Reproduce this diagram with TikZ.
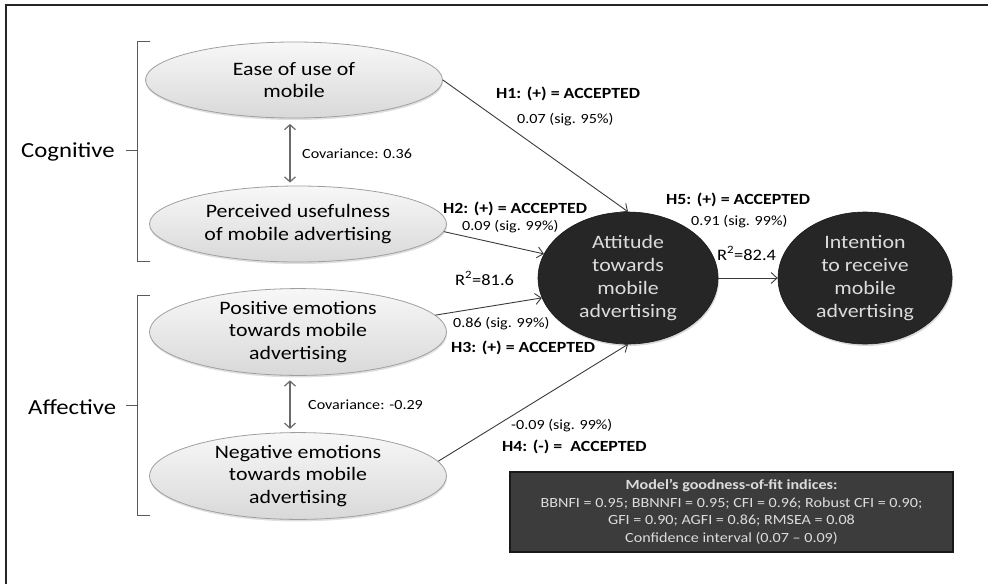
\documentclass[tikz,border=0pt]{standalone}
\usepackage{fontspec}
\setmainfont{Carlito}[FakeStretch=1.15]
\usetikzlibrary{arrows.meta,shapes.geometric,shadows}

\definecolor{lineclr}{HTML}{3A3A3A}
\definecolor{covclr}{HTML}{6A6A6A}
\definecolor{bracketclr}{HTML}{5A5A5A}
\definecolor{darkfill}{HTML}{262626}
\definecolor{boxfill}{HTML}{3C3C3C}
\definecolor{lighttext}{HTML}{DCDCDC}

\tikzset{
  construct/.style={ellipse, inner sep=0pt, minimum width=297pt, minimum height=76pt,
    draw=gray!75, line width=0.8pt, top color=gray!6, bottom color=gray!30,
    drop shadow={shadow xshift=0.5pt, shadow yshift=-2pt, opacity=0.25},
    align=center, font=\fontsize{19}{22.5}\selectfont},
  latent/.style={ellipse, inner sep=0pt, minimum height=132pt,
    fill=darkfill, draw=black!90, line width=0.6pt,
    drop shadow={shadow xshift=1pt, shadow yshift=-2pt, opacity=0.3},
    text=lighttext, align=center, font=\fontsize{19}{23}\selectfont},
  path/.style={draw=lineclr, line width=0.9pt, -{Straight Barb[length=6pt,width=11pt]}},
  cov/.style={draw=covclr, line width=1.2pt,
    {Straight Barb[length=5pt,width=11pt]}-{Straight Barb[length=5pt,width=11pt]}},
  bracket/.style={draw=bracketclr, line width=1pt},
  hyp/.style={anchor=base west, inner sep=0pt, font=\fontsize{15.5}{18}\selectfont\bfseries},
  est/.style={anchor=base west, inner sep=0pt, font=\fontsize{14}{16}\selectfont},
  group/.style={anchor=base west, inner sep=0pt, font=\fontsize{21.5}{24}\selectfont},
  fitbox/.style={draw=black!90, line width=1.2pt, fill=boxfill, text=lighttext,
    minimum width=443pt, minimum height=80pt, inner sep=0pt, align=center,
    font=\fontsize{14}{17.5}\selectfont,
    drop shadow={shadow xshift=1pt, shadow yshift=-1pt, opacity=0.25}}
}

\begin{document}
\begin{tikzpicture}[x=1pt, y=-1pt]
\useasboundingbox (0,0) rectangle (988,584);

% frame (top and left edges)
\draw[line width=2pt, black!85] (6,584) -- (6,5) -- (988,5);

% constructs
\node[construct] (ease) at (294,80)  {Ease of use of\\mobile};
\node[construct] (perc) at (298,224) {Perceived usefulness\\of mobile advertising};
\node[construct] (pos)  at (298,332) {Positive emotions\\towards mobile\\advertising};
\node[construct] (neg)  at (298,476) {Negative emotions\\towards mobile\\advertising};

\node[latent, minimum width=180pt] (att) at (628,278) {Attitude\\towards\\mobile\\advertising};
\node[latent, minimum width=174pt] (int) at (865,278) {Intention\\to receive\\mobile\\advertising};

% group brackets
\coordinate (cogtop) at (137,41);
\coordinate (cogbot) at (137,261);
\coordinate (cogmid) at (137,150);
\draw[bracket] ([xshift=13pt]cogtop) -- (cogtop) -- (cogbot) -- ([xshift=13pt]cogbot);
\draw[bracket] (cogmid) -- ([xshift=-11pt]cogmid);
\coordinate (afftop) at (137,295);
\coordinate (affbot) at (137,515);
\coordinate (affmid) at (137,405);
\draw[bracket] ([xshift=13pt]afftop) -- (afftop) -- (affbot) -- ([xshift=13pt]affbot);
\draw[bracket] (affmid) -- ([xshift=-11pt]affmid);

\node[group] (cog) at (21,157) {Cognitive};
\node[group] (aff) at (28,414) {Affective};

% covariances
\coordinate (cvx) at (290,0);
\draw[cov] ([yshift=-5.5pt]ease.south -| cvx) -- ([yshift=3pt]perc.north -| cvx);
\draw[cov] ([yshift=-4.5pt]pos.south -| cvx) -- ([yshift=3.3pt]neg.north -| cvx);
\node[est] (cov1) at (302,158) {Covariance: 0.36};
\node[est] (cov2) at (308,409) {Covariance: -0.29};

% structural paths
\draw[path] (ease.east) -- (att.north);
\draw[path] (perc.-3) -- (att.164);
\draw[path] (pos.7) -- (att.193);
\draw[path] (neg.6) -- (att.south);
\draw[path] (att.east) -- (int.west);

% path labels
\node[hyp] (h1) at (496,98)  {H1: (+) = ACCEPTED};
\node[est] (e1) at (517,123) {0.07 (sig. 95\%)};
\node[hyp] (h2) at (443,213) {H2: (+) = ACCEPTED};
\node[est] (e2) at (462,230) {0.09 (sig. 99\%)};
\node[hyp] (h5) at (666,204) {H5: (+) = ACCEPTED};
\node[est] (e5) at (691,225) {0.91 (sig. 99\%)};
\node[est, font=\fontsize{16}{18}\selectfont] (r2b) at (717,260) {R\textsuperscript{2}=82.4};
\node[est, font=\fontsize{16}{18}\selectfont] (r2a) at (455,285) {R\textsuperscript{2}=81.6};
\node[est] (e3) at (453,327) {0.86 (sig. 99\%)};
\node[hyp] (h3) at (451,352) {H3: (+) = ACCEPTED};
\node[est] (e4) at (511,429) {-0.09 (sig. 99\%)};
\node[hyp] (h4) at (502,451) {H4: (-) =\ \ ACCEPTED};

% fit indices
\node[fitbox] (fit) at (731.5,512) {{\bfseries Model’s goodness-of-fit indices:}\\
  BBNFI = 0.95; BBNNFI = 0.95; CFI = 0.96; Robust CFI = 0.90;\\
  GFI = 0.90; AGFI = 0.86; RMSEA = 0.08\\
  Confidence interval (0.07 – 0.09)};
\end{tikzpicture}
\end{document}
